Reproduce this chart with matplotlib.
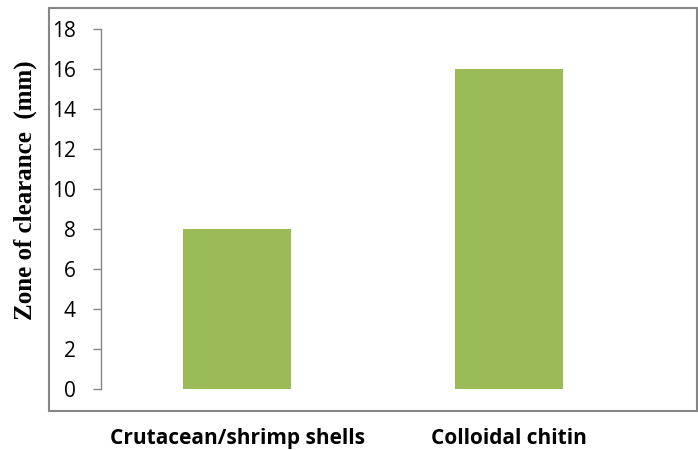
import matplotlib
matplotlib.use("Agg")
from matplotlib import pyplot as plt
from matplotlib.patches import Rectangle

# substrate vs. zone of clearance (mm)
categories = ["Crutacean/shrimp shells", "Colloidal chitin"]
clearance = [8, 16]
yticks = [0, 2, 4, 6, 8, 10, 12, 14, 16, 18]

W, H = 698, 450
fig = plt.figure(figsize=(W / 100, H / 100), dpi=100)

# chart border around the plot
fig.patches.append(
    Rectangle(
        (49 / W, 1 - 411 / H), (697 - 49) / W, (411 - 8) / H,
        transform=fig.transFigure, fill=False, edgecolor="#868686", linewidth=1.5,
    )
)

ax = fig.add_axes([101 / W, 1 - 389 / H, (645 - 101) / W, (389 - 29) / H])
ax.bar(range(len(categories)), clearance, width=0.4, color="#9BBB59")

ax.set_xlim(-0.5, len(categories) - 0.5)
ax.set_ylim(0, 18)
ax.set_yticks(yticks)
ax.set_xticks(range(len(categories)))
ax.set_xticklabels(categories, fontfamily="Open Sans", fontweight="bold", fontsize=15)
ax.tick_params(axis="x", length=0, pad=28)
ax.tick_params(axis="y", direction="out", length=6, width=1, color="#868686",
               labelsize=15, pad=12)
for lab in ax.get_yticklabels():
    lab.set_fontfamily("Open Sans")

for side in ["top", "right", "bottom"]:
    ax.spines[side].set_visible(False)
ax.spines["left"].set_color("#868686")
ax.spines["left"].set_linewidth(1)

fig.text(25 / W, 1 - 190 / H, "Zone of clearance  (mm)", rotation=90,
         ha="center", va="center", fontfamily="Liberation Serif",
         fontweight="bold", fontsize=18)

plt.savefig("out.png", dpi=100)
